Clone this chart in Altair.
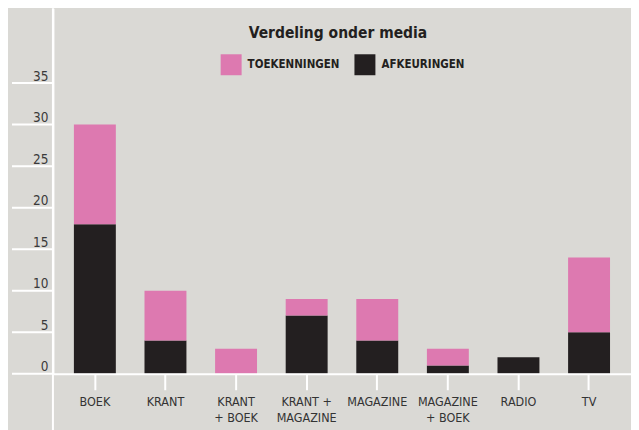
import altair as alt
import pandas as pd

categories = ["BOEK", "KRANT", "KRANT|+ BOEK", "KRANT +|MAGAZINE", "MAGAZINE",
              "MAGAZINE|+ BOEK", "RADIO", "TV"]
afkeuringen = [18, 4, 0, 7, 4, 1, 2, 5]
toekenningen = [12, 6, 3, 2, 5, 2, 0, 9]
series = ["TOEKENNINGEN", "AFKEURINGEN"]
colors = ["#dd79b0", "#231f20"]
y_ticks = [0, 5, 10, 15, 20, 25, 30, 35]
title_text = "Verdeling onder media"

FONT = "Liberation Sans Narrow, DejaVu Sans Condensed, sans-serif"
BG = "#dad9d5"
W, H = 579, 366

rows = []
for c, a, t in zip(categories, afkeuringen, toekenningen):
    rows.append({"cat": c, "serie": "AFKEURINGEN", "val": a, "ord": 0})
    rows.append({"cat": c, "serie": "TOEKENNINGEN", "val": t, "ord": 1})
df = pd.DataFrame(rows)

yscale = alt.Scale(domain=[0, 44], nice=False)

bars = alt.Chart(df).mark_bar().encode(
    x=alt.X("cat:N", sort=categories, title=None,
            scale=alt.Scale(paddingInner=0.406, paddingOuter=0.297),
            axis=alt.Axis(labelExpr="split(datum.label, '|')", labelAngle=0,
                          labelFont=FONT, labelFontSize=12.5, labelColor="#333333",
                          labelBaseline="top", labelPadding=6, labelLineHeight=16,
                          tickColor="white", tickWidth=2, tickSize=16,
                          domainColor="white", domainWidth=2, zindex=1)),
    y=alt.Y("val:Q", stack="zero", title=None, scale=yscale,
            axis=alt.Axis(values=y_ticks, grid=False, labelFont=FONT, labelFontSize=13.5,
                          labelColor="#3a3a3a", labelAlign="right",
                          labelBaseline="alphabetic", labelOffset=-3,
                          labelPadding=5, ticks=False,
                          domainColor="white", domainWidth=2, zindex=1)),
    color=alt.Color("serie:N", scale=alt.Scale(domain=series, range=colors),
                    legend=alt.Legend(orient="none", legendX=168, legendY=46,
                                      direction="horizontal", title=None,
                                      symbolType="square", symbolSize=441,
                                      symbolStrokeWidth=0, symbolOpacity=1,
                                      labelFont=FONT, labelFontSize=11.5,
                                      labelFontWeight="bold", labelColor="#231f20",
                                      labelOffset=6, columnPadding=14, padding=0)),
    order=alt.Order("ord:Q", sort="ascending"),
)

gutter = alt.Chart(pd.DataFrame({"v": y_ticks})).mark_rule(
    color="white", strokeWidth=2
).encode(y=alt.Y("v:Q", scale=yscale), x=alt.value(-41), x2=alt.value(0))

vline = alt.Chart(pd.DataFrame({"k": [0]})).mark_rule(color="white", strokeWidth=2).encode(
    x=alt.value(0), y=alt.value(0), y2=alt.value(H + 60)
)

title = alt.Chart(pd.DataFrame({"t": [title_text]})).mark_text(
    font=FONT, fontSize=15.5, fontWeight="bold", color="#231f20", baseline="middle"
).encode(text="t:N", x=alt.value(W / 2 - 4), y=alt.value(25))

chart = alt.layer(bars, gutter, vline, title).properties(
    width=W, height=H,
    autosize=alt.AutoSizeParams(type="none"),
    padding={"left": 45, "top": 0, "right": 0, "bottom": 60},
    background=BG,
).configure_view(stroke=None)

chart.save("out.html", embed_options={"renderer": "svg", "actions": False})
